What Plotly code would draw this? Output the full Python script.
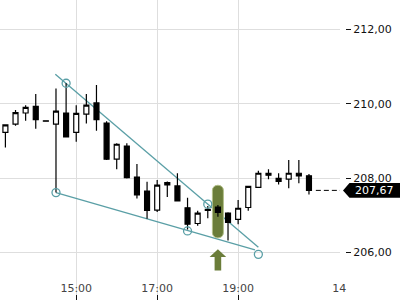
import plotly.graph_objects as go

# ---------------- data ----------------
times = ["13:15", "13:30", "13:45", "14:00", "14:15", "14:30", "14:45", "15:00",
         "15:15", "15:30", "15:45", "16:00", "16:15", "16:30", "16:45", "17:00",
         "17:15", "17:30", "17:45", "18:00", "18:15", "18:30", "18:45", "19:00",
         "19:15", "19:30", "19:45", "20:00", "20:15", "20:30", "20:45"]
opens = [209.23, 209.45, 209.75, 209.93, 209.54, 209.45, 209.75, 209.23,
         209.72, 210.02, 209.48, 208.51, 208.86, 208.03, 207.65, 207.14,
         207.88, 207.79, 207.20, 206.78, 207.16, 207.22, 207.06, 206.89,
         207.21, 207.75, 208.13, 207.99, 207.97, 208.13, 208.06]
highs = [209.45, 209.83, 209.96, 210.26, 209.55, 210.41, 210.55, 209.96,
         210.26, 210.50, 209.53, 208.94, 208.94, 208.38, 207.90, 207.95,
         207.91, 208.13, 207.47, 207.12, 207.25, 207.28, 207.08, 207.41,
         207.79, 208.20, 208.24, 208.13, 208.49, 208.49, 208.11]
lows = [208.82, 209.41, 209.54, 209.33, 209.52, 207.61, 209.09, 208.98,
        209.47, 209.27, 208.49, 208.24, 207.99, 207.45, 206.91, 207.09,
        207.49, 207.39, 206.62, 206.72, 206.92, 206.96, 206.32, 206.76,
        207.12, 207.75, 207.97, 207.83, 207.73, 207.86, 207.56]
closes = [209.43, 209.76, 209.90, 209.57, 209.53, 209.80, 209.11, 209.74,
          209.96, 209.57, 208.51, 208.91, 208.01, 207.55, 207.13, 207.81,
          207.82, 207.39, 206.76, 207.06, 207.13, 207.08, 206.81, 207.19,
          207.78, 208.13, 208.08, 207.91, 208.13, 208.06, 207.67]

x_tick_times = ["15:00", "17:00", "19:00", "21:30"]
x_tick_text = ["15:00", "17:00", "19:00", "14"]
y_tick_vals = [206, 208, 210, 212]
y_tick_text = ["206,00", "208,00", "210,00", "212,00"]

last_price = 207.67
last_label = "207,67"

upper_trend_t = ["14:29", "19:30"]
upper_trend_p = [210.79, 206.14]
lower_trend_t = ["14:30", "19:25"]
lower_trend_p = [207.61, 206.07]
pivot_t = ["14:45", "18:15", "14:30", "17:45", "19:30"]
pivot_p = [210.55, 207.30, 207.61, 206.58, 205.95]

signal_t = "18:30"
signal_p = 207.10

x_range_t = ["13:07", "21:31"]
y_range = [204.723, 212.788]

# ---------------- helpers ----------------
def hrs(s):
    h, m = s.split(":")
    return int(h) + int(m) / 60.0

xs = [hrs(t) for t in times]
TEAL = "#5a9fa6"
OLIVE = "#6b7d3a"
FONT = "DejaVu Sans"

fig = go.Figure()

fig.add_trace(go.Candlestick(
    x=xs, open=opens, high=highs, low=lows, close=closes,
    increasing=dict(line=dict(color="black", width=1.2), fillcolor="white"),
    decreasing=dict(line=dict(color="black", width=1.2), fillcolor="black"),
    whiskerwidth=0, hoverinfo="skip", showlegend=False,
))

fig.add_trace(go.Scatter(
    x=[hrs(t) for t in pivot_t], y=pivot_p, mode="markers",
    marker=dict(symbol="circle-open", size=8, color=TEAL, line=dict(width=1.3, color=TEAL)),
    hoverinfo="skip", showlegend=False,
))

shapes = []
for tt, pp in ((upper_trend_t, upper_trend_p), (lower_trend_t, lower_trend_p)):
    shapes.append(dict(type="line", xref="x", yref="y",
                       x0=hrs(tt[0]), y0=pp[0], x1=hrs(tt[1]), y1=pp[1],
                       line=dict(color=TEAL, width=1.3), layer="between"))
pill = ("M -5.5,-21 L -5.5,21 C -5.5,24.5 -3,26.3 0,26.3 C 3,26.3 5.5,24.5 5.5,21 "
        "L 5.5,-21 C 5.5,-24.5 3,-26.3 0,-26.3 C -3,-26.3 -5.5,-24.5 -5.5,-21 Z")
shapes.append(dict(type="path", xref="x", yref="y", xsizemode="pixel", ysizemode="pixel",
                   xanchor=hrs(signal_t), yanchor=signal_p, path=pill,
                   fillcolor=OLIVE, line=dict(color="#b3c08a", width=1), layer="between"))
arrow = ("M 0,-37.6 L 8.3,-45.3 L 3.3,-45.3 L 3.3,-59 L -3.3,-59 L -3.3,-45.3 L -8.3,-45.3 Z")
shapes.append(dict(type="path", xref="x", yref="y", xsizemode="pixel", ysizemode="pixel",
                   xanchor=hrs(signal_t), yanchor=signal_p, path=arrow,
                   fillcolor=OLIVE, line=dict(width=0), layer="above"))
shapes.append(dict(type="line", xref="x", yref="y",
                   x0=xs[-1] + 0.17, x1=hrs(x_range_t[1]) + 0.2, y0=last_price, y1=last_price,
                   line=dict(color="black", width=1, dash="5px,3px"), layer="above"))
tag = "M 3,0 L 9.5,7.3 L 62,7.3 L 62,-7.3 L 9.5,-7.3 Z"
shapes.append(dict(type="path", xref="x domain", yref="y", xsizemode="pixel", ysizemode="pixel",
                   xanchor=1.0, yanchor=last_price, path=tag,
                   fillcolor="black", line=dict(width=0), layer="above"))

fig.add_annotation(x=1.0, xref="x domain", y=last_price, yref="y", text=last_label,
                   showarrow=False, xanchor="left", xshift=13, yanchor="middle",
                   font=dict(family=FONT, size=11, color="white"))

fig.update_layout(
    width=400, height=300, autosize=False,
    margin=dict(l=0, r=0, t=0, b=0, pad=0, autoexpand=False),
    paper_bgcolor="white", plot_bgcolor="white",
    shapes=shapes, showlegend=False,
    font=dict(family=FONT, size=11, color="#111"),
    xaxis=dict(
        domain=[0, 0.85], range=[hrs(x_range_t[0]), hrs(x_range_t[1])],
        rangeslider=dict(visible=False), automargin=False,
        tickmode="array", tickvals=[hrs(t) for t in x_tick_times], ticktext=x_tick_text,
        ticks="inside", ticklen=5, tickwidth=1, tickcolor="#111",
        ticklabelposition="inside", ticklabeloverflow="allow",
        showgrid=True, gridcolor="#dedede", gridwidth=1,
        zeroline=False, showline=False, fixedrange=True,
    ),
    yaxis=dict(
        range=y_range, side="right", anchor="free", position=0.8625, automargin=False,
        tickmode="array", tickvals=y_tick_vals, ticktext=y_tick_text,
        ticks="outside", ticklen=5, tickwidth=1, tickcolor="#111",
        showgrid=True, gridcolor="#dedede", gridwidth=1,
        zeroline=False, showline=False, fixedrange=True,
    ),
)

fig.write_html("out.html")
